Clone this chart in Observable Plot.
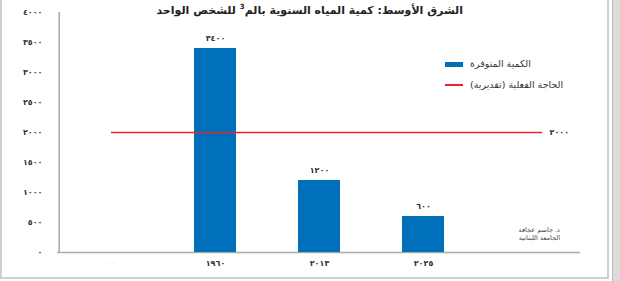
<!DOCTYPE html>
<html><head><meta charset="utf-8">
<script src="https://cdn.jsdelivr.net/npm/d3@7"></script>
<script src="https://cdn.jsdelivr.net/npm/@observablehq/plot@0.6"></script>
<style>
html,body{margin:0;padding:0;background:#fff;}
#wrap{position:relative;width:620px;height:281px;overflow:hidden;font-family:"DejaVu Sans",sans-serif;background:#fff;}
#frame{position:absolute;left:0;top:-3px;width:609px;height:282px;border:2px solid #cfcfcf;border-top:none;box-sizing:border-box;}
#strip{position:absolute;left:612px;top:0;width:8px;height:281px;background:#dcdcdc;border-left:1px solid #b8b8b8;box-sizing:border-box;}
#chart{position:absolute;left:0;top:0;}
#title{position:absolute;right:157px;top:0px;font-size:11px;font-weight:bold;color:#222;white-space:nowrap;direction:rtl;line-height:14px;}
#title sup{font-size:7px;}
.lg{position:absolute;white-space:nowrap;direction:rtl;font-size:9.5px;color:#333;line-height:10px;}
.sw{position:absolute;}
#caption{position:absolute;right:60px;top:226px;font-size:6.5px;color:#444;direction:rtl;text-align:right;line-height:8px;white-space:nowrap;}
</style></head><body>
<div id="wrap">
  <div id="frame"></div>
  <div id="strip"></div>
  <div id="chart"></div>
  <div id="title">الشرق الأوسط: كمية المياه السنوية بالم<sup>3</sup> للشخص الواحد</div>
  <div class="sw" style="left:445px;top:62px;width:18px;height:5px;background:#0070ba;"></div>
  <div class="lg" id="lg1" style="left:470px;top:59px;"></div>
  <div class="sw" style="left:445px;top:84px;width:18px;height:1.5px;background:#e3262d;"></div>
  <div class="lg" id="lg2" style="left:470px;top:80px;"></div>
  <div id="caption"></div>
</div>
<script>
const categories = ["00", "1960", "2013", "2025", ""];
const years = ["1960", "2013", "2025"];
const available = [3400, 1200, 600];
const need = 2000;
const yTicks = [0, 500, 1000, 1500, 2000, 2500, 3000, 3500, 4000];
const seriesNames = ["الكمية المتوفرة", "الحاجة الفعلية (تقديرية)"];
const captionLines = ["د. جاسم عجاقة", "الجامعة اللبنانية"];

const ar = s => String(s).replace(/[0-9]/g, d => "٠١٢٣٤٥٦٧٨٩"[+d]);
const data = years.map((y, i) => ({year: y, value: available[i]}));

document.getElementById("lg1").textContent = seriesNames[0];
document.getElementById("lg2").textContent = seriesNames[1];
document.getElementById("caption").innerHTML = captionLines.join("<br>");

const width = 620, marginLeft = 57, marginRight = 40;
const step = (width - marginLeft - marginRight) / categories.length;

const chart = Plot.plot({
  width, height: 281,
  marginTop: 12, marginBottom: 29, marginLeft, marginRight,
  style: {fontFamily: "DejaVu Sans", fontSize: "8px", fontWeight: "bold", color: "#333", background: "transparent"},
  x: {domain: categories, paddingInner: 0.6, paddingOuter: 0.3, axis: null},
  y: {domain: [0, 4000], axis: null},
  marks: [
    Plot.ruleX([categories[0]], {y1: 0, y2: 4000, dx: -step / 2, stroke: "#aaa", strokeWidth: 1.5}),
    Plot.ruleY([0], {stroke: "#aaa", strokeWidth: 1.5}),
    Plot.barY(data, {x: "year", y: "value", fill: "#0070ba"}),
    Plot.text(data, {x: "year", y: "value", text: d => ar(d.value), dy: -10, fill: "#333"}),
    Plot.ruleY([need], {x1: () => categories[0], x2: () => categories[4], stroke: "#e3262d", strokeWidth: 1.5, insetLeft: 21, insetRight: 6}),
    Plot.text([need], {x: () => categories[4], y: d => d, text: d => ar(d), textAnchor: "start", dx: 22, fill: "#333"}),
    Plot.axisY({ticks: yTicks, tickSize: 0, tickPadding: 15, tickFormat: ar, fill: "#333", label: null}),
    Plot.axisX({tickSize: 0, tickPadding: 8, tickFormat: ar, fill: d => d === "00" ? "#ececec" : "#333", label: null})
  ]
});
document.getElementById("chart").appendChild(chart);
</script>
</body></html>
